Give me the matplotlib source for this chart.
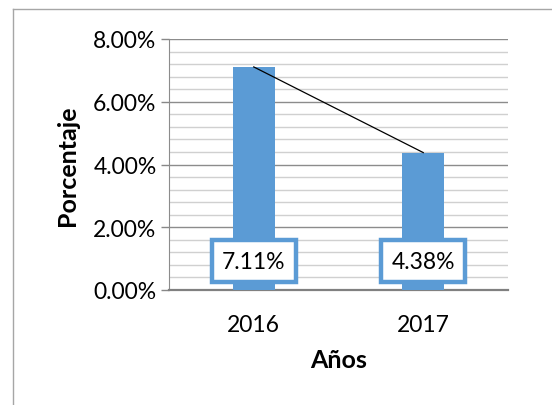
import matplotlib.pyplot as plt
import numpy as np
from matplotlib.lines import Line2D
from matplotlib.ticker import MultipleLocator, FuncFormatter

years = ["2016", "2017"]
values = [7.11, 4.38]
value_labels = ["7.11%", "4.38%"]
y_ticks = [0, 2, 4, 6, 8]

BLUE = "#5B9BD5"
plt.rcParams["font.family"] = ["Lato", "DejaVu Sans"]

fig = plt.figure(figsize=(5.52, 4.06), dpi=100)
ax = fig.add_axes([169 / 552, 1 - 291 / 406, (508 - 169) / 552, (291 - 40) / 406])

x = np.arange(len(years))
ax.bar(x, values, width=0.25, color=BLUE, zorder=3)
ax.plot(x, values, color="black", linewidth=0.9, zorder=4)

# value labels sit in white boxes near the bottom of each bar
for xi, lab in zip(x, value_labels):
    ax.text(xi, 0.92, lab, ha="center", va="center", fontsize=16.5, zorder=5,
            bbox=dict(boxstyle="square,pad=0.45", facecolor="white",
                      edgecolor=BLUE, linewidth=3.2))

ax.set_xlim(-0.5, 1.5)
ax.set_ylim(0, 8)
ax.set_xticks(x)
ax.set_xticklabels(years, fontsize=16.5)
ax.set_yticks(y_ticks)
ax.yaxis.set_major_formatter(FuncFormatter(lambda v, p: f"{v:.2f}%"))
ax.yaxis.set_minor_locator(MultipleLocator(0.4))
ax.tick_params(axis="y", labelsize=16.5, length=6, color="#888888", width=1, pad=3)
ax.tick_params(axis="y", which="minor", length=0)
ax.tick_params(axis="x", length=0, pad=17)

ax.grid(which="major", axis="y", color="#8C8C8C", linewidth=1.0, zorder=0)
ax.grid(which="minor", axis="y", color="#D0D0D0", linewidth=1.0, zorder=0)

for s in ["top", "right"]:
    ax.spines[s].set_visible(False)
ax.spines["left"].set_color("#8C8C8C")
ax.spines["bottom"].set_color("#808080")
ax.spines["bottom"].set_linewidth(1.6)

ax.set_ylabel("Porcentaje", fontsize=18, fontweight="bold", labelpad=10)
ax.set_xlabel("Años", fontsize=18, fontweight="bold", labelpad=10)

# outer chart frame (only left and top edges visible in the crop)
fig.add_artist(Line2D([13 / 552, 13 / 552], [0, 1 - 10 / 406], transform=fig.transFigure,
                      color="#A6A6A6", linewidth=1))
fig.add_artist(Line2D([13 / 552, 1], [1 - 10 / 406, 1 - 10 / 406], transform=fig.transFigure,
                      color="#A6A6A6", linewidth=1))

fig.savefig("out.png", dpi=100)
